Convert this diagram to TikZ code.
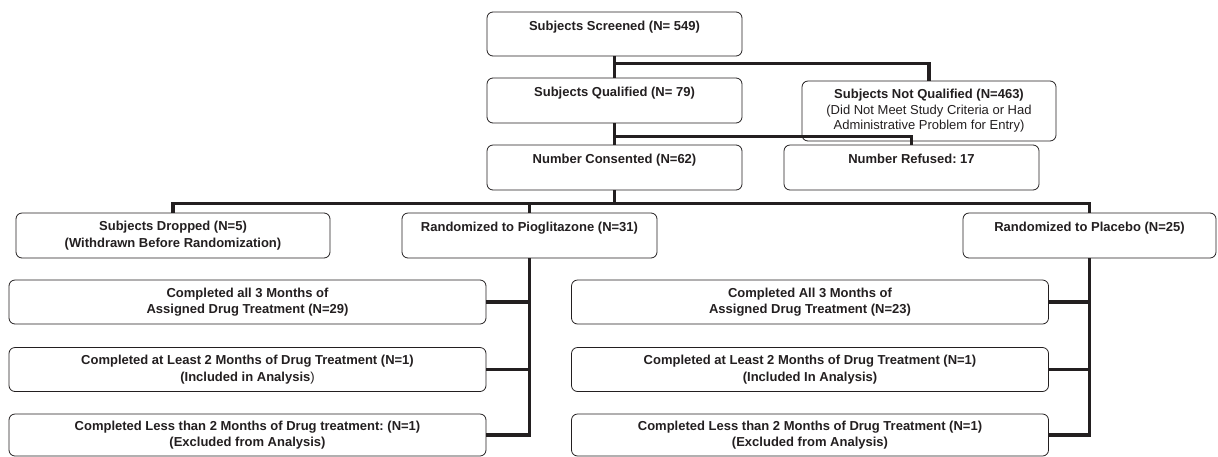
\documentclass[tikz,border=0pt]{standalone}
\usepackage{fontspec}
\setmainfont{Liberation Sans}
\usetikzlibrary{calc}
\definecolor{ink}{HTML}{231F20}
\frenchspacing
\tikzset{
  flow_box/.style = {draw=ink, line width=0.8pt, rounded corners=6pt, fill=white, align=center,
                     inner sep=0pt, text=ink, font=\bfseries\fontsize{13}{16.5}\selectfont},
  box_mid/.style  = {flow_box, minimum width=255pt, minimum height=45pt},
  box_low/.style  = {flow_box, minimum width=477pt, minimum height=44pt},
  conn/.style     = {draw=ink, line width=3.5pt}
}

\begin{document}
\begin{tikzpicture}[x=1pt, y=-1pt]
\useasboundingbox (0,0) rectangle (1218,456);
% top of the chart
\node [box_mid, minimum height=44pt] (scr) at (614.5,34) {Subjects Screened (N= 549)\\ \mbox{}};
\node [box_mid] (qual) at (614.5,100.5) {Subjects Qualified (N= 79)\\ \mbox{}};
\node [flow_box, minimum width=254pt, minimum height=60pt, font=\bfseries\fontsize{13}{15.5}\selectfont] (notq) at (929,111)
  {Subjects Not Qualified (N=463)\\ {\mdseries (Did Not Meet Study Criteria or Had}\\ {\mdseries Administrative Problem for Entry)}};
\node [box_mid] (cons) at (614.5,167.5) {Number Consented (N=62)\\ \mbox{}};
\node [box_mid] (refu) at (911.5,167.5) {Number Refused: 17\\ \mbox{}};
% randomization
\node [box_mid, minimum width=314pt] (drop) at (173,235.5) {Subjects Dropped (N=5)\\ (Withdrawn Before Randomization)};
\node [box_mid] (pio) at (529.5,235.5) {Randomized to Pioglitazone (N=31)\\ \mbox{}};
\node [box_mid, minimum width=253pt] (plac) at (1089.5,235.5) {Randomized to Placebo (N=25)\\ \mbox{}};
% pioglitazone arm
\node [box_low] (pio_a) at (247.5,302) {Completed all 3 Months of\\ Assigned Drug Treatment (N=29)};
\node [box_low] (pio_b) at (247.5,369.5) {Completed at Least 2 Months of Drug Treatment (N=1)\\ (Included in Analysis{\mdseries )}};
\node [box_low, minimum height=42pt] (pio_c) at (247.5,435) {Completed Less than 2 Months of Drug treatment: (N=1)\\ (Excluded from Analysis)};
% placebo arm
\node [box_low] (plac_a) at (810,302) {Completed All 3 Months of\\ Assigned Drug Treatment (N=23)};
\node [box_low] (plac_b) at (810,369.5) {Completed at Least 2 Months of Drug Treatment (N=1)\\ (Included In Analysis)};
\node [box_low, minimum height=42pt] (plac_c) at (810,435) {Completed Less than 2 Months of Drug Treatment (N=1)\\ (Excluded from Analysis)};

% connectors
\coordinate (j_scr) at ($(scr.south)+(0,7)$);
\coordinate (j_qual) at ($(qual.south)+(0,13)$);
\coordinate (j_cons) at ($(cons.south)+(0,13)$);
\draw [conn] (scr.south) -- (qual.north);
\draw [conn] (j_scr) -| (notq.north);
\draw [conn] (qual.south) -- (cons.north);
\draw [conn] (j_qual) -| (refu.north);
\draw [conn] (cons.south) -- (j_cons);
\draw [conn] (drop.north) |- (j_cons) -| (plac.north);
\draw [conn] (j_cons -| pio.north) -- (pio.north);
\draw [conn] (pio.south) |- (pio_c.east);
\draw [conn] (pio_a.east) -- (pio_a.east -| pio.south);
\draw [conn] (pio_b.east) -- (pio_b.east -| pio.south);
\draw [conn] (plac.south) |- (plac_c.east);
\draw [conn] (plac_a.east) -- (plac_a.east -| plac.south);
\draw [conn] (plac_b.east) -- (plac_b.east -| plac.south);
\end{tikzpicture}
\end{document}
